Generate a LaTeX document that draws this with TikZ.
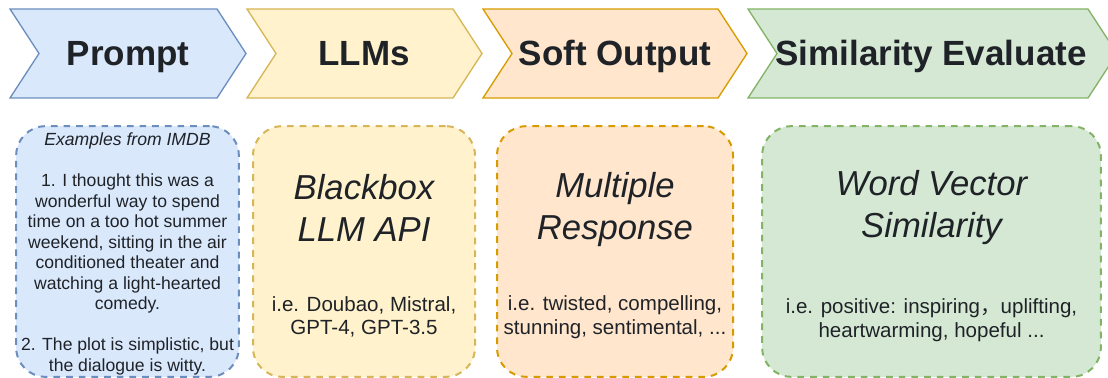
\documentclass[tikz,border=0pt]{standalone}
\usepackage{fontspec}
\setmainfont{Liberation Sans}
\newfontfamily\cjk{Noto Sans CJK SC}
\usepackage{tikz}
\usetikzlibrary{positioning}
\definecolor{ink}{HTML}{1F2328}
\definecolor{promptfill}{HTML}{DAE8FC}
\definecolor{promptline}{HTML}{6C8EBF}
\definecolor{llmfill}{HTML}{FFF2CC}
\definecolor{llmline}{HTML}{D6B656}
\definecolor{softfill}{HTML}{FFE6CC}
\definecolor{softline}{HTML}{D79B00}
\definecolor{simfill}{HTML}{D5E8D4}
\definecolor{simline}{HTML}{82B366}
\tikzstyle{chevron} = [line width=1pt, line join=miter]
\tikzstyle{stage} = [anchor=base, text=ink,
    font=\fontsize{26.25}{31.5}\selectfont\bfseries]
\tikzstyle{card} = [rectangle, rounded corners=22pt, line width=1.5pt,
    dash pattern=on 5pt off 4.5pt, minimum height=188pt]
\tikzstyle{method} = [text=ink, align=center,
    font=\fontsize{26}{31.5}\selectfont\itshape]
\tikzstyle{hint} = [text=ink, align=center,
    font=\fontsize{15.4}{17.6}\selectfont]
\tikzstyle{review} = [text=ink, align=center,
    font=\fontsize{13.2}{15.4}\selectfont]

\begin{document}
\begin{tikzpicture}[x=0.75pt, y=-0.75pt]
    \useasboundingbox (0,0) rectangle (1108,378);
    % stage chevrons
    \draw [chevron, draw=promptline, fill=promptfill] (10,9) -- (217,9) -- (246,53.5) -- (217,98) -- (10,98) -- (39,53.5) -- cycle;
    \draw [chevron, draw=llmline, fill=llmfill] (247,9) -- (453,9) -- (482,53.5) -- (453,98) -- (247,98) -- (276,53.5) -- cycle;
    \draw [chevron, draw=softline, fill=softfill] (483,9) -- (718,9) -- (747,53.5) -- (718,98) -- (483,98) -- (512,53.5) -- cycle;
    \draw [chevron, draw=simline, fill=simfill] (748,9) -- (1088,9) -- (1117,53.5) -- (1088,98) -- (748,98) -- (777,53.5) -- cycle;
    \node (prompt) [stage] at (128,66) {Prompt};
    \node (llms) [stage] at (364,66) {LLMs};
    \node (soft) [stage] at (615,66) {Soft Output};
    \node (sim) [stage] at (931,66) {Similarity Evaluate};

    % dashed cards
    \node (promptcard) [card, draw=promptline, fill=promptfill, minimum width=167pt] at (127.5,251.5) {};
    \node (llmcard) [card, draw=llmline, fill=llmfill, minimum width=166.5pt] at (364,251.5) {};
    \node (softcard) [card, draw=softline, fill=softfill, minimum width=177pt] at (615,251.5) {};
    \node (simcard) [card, draw=simline, fill=simfill, minimum width=254pt] at (931.5,251.5) {};

    \node (examples) [review] at (127.5,254) {\textit{Examples from IMDB}\\[15.4pt]
        1. I thought this was a\\ wonderful way to spend\\ time on a too hot summer\\
        weekend, sitting in the air\\ conditioned theater and\\ watching a light-hearted\\
        comedy.\\[15.4pt] 2. The plot is simplistic, but\\ the dialogue is witty.};
    \node (blackbox) [method] at (364,208) {Blackbox\\ LLM API};
    \node (llmlist) [hint] at (364,317) {i.e. Doubao, Mistral,\\ GPT-4, GPT-3.5};
    \node (multiple) [method] at (615,210) {Multiple\\ Response};
    \node (softlist) [hint] at (615,317) {i.e. twisted, compelling,\\ stunning, sentimental, ...};
    \node (wordvec) [method] at (931.5,208) {Word Vector\\ Similarity};
    \node (simlist) [hint] at (931.5,320) {i.e. positive: inspiring{\cjk ，}uplifting,\\ heartwarming, hopeful ...};
\end{tikzpicture}
\end{document}
